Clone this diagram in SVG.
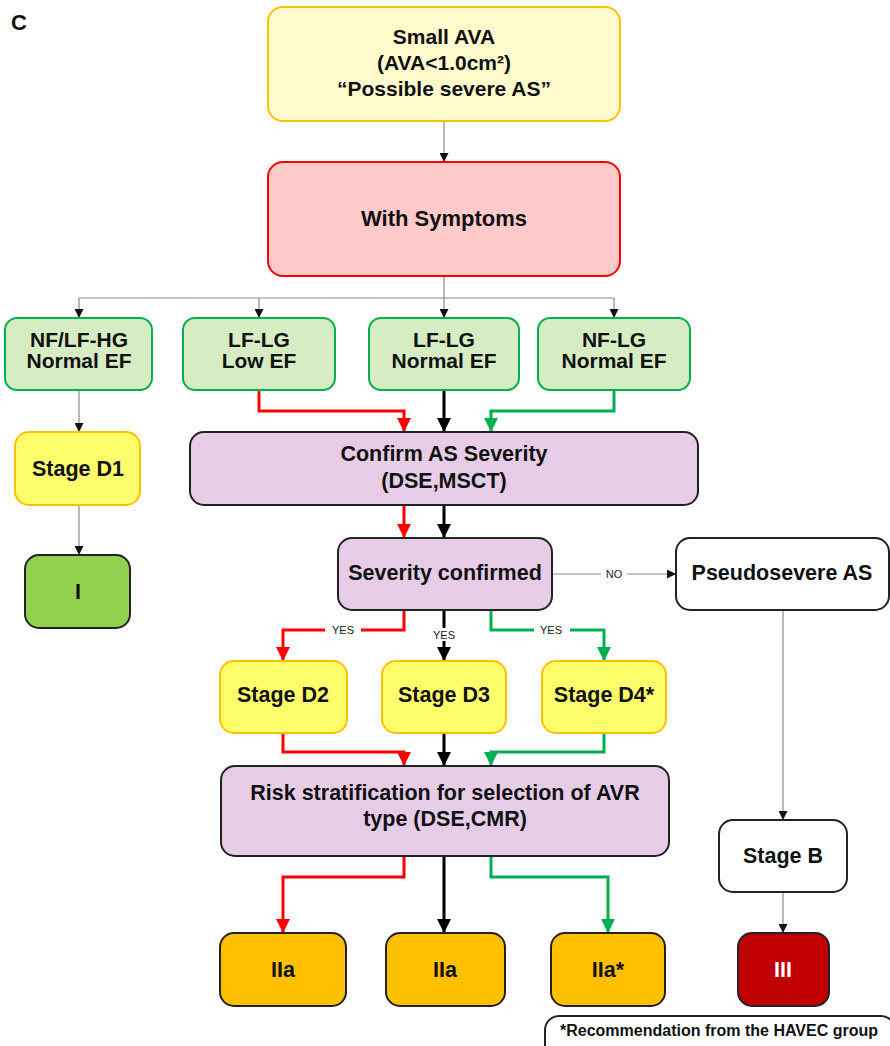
<svg xmlns="http://www.w3.org/2000/svg" width="890" height="1046" viewBox="0 0 890 1046">
<defs>
<style>
text{font-family:"Liberation Sans",Arial,sans-serif;font-weight:bold;text-anchor:middle;fill:#111}
.t{font-size:21.5px}
.g{font-size:21px}
.lbl{font-size:11px;font-weight:normal;fill:#222}
.yel{fill:#fffbcc;stroke:#ffc000;stroke-width:2}
.sym{fill:#ffcaca;stroke:#ff0000;stroke-width:2}
.grn{fill:#d6edc4;stroke:#00b050;stroke-width:2}
.stg{fill:#ffff6b;stroke:#ffc000;stroke-width:2}
.pur{fill:#e6cce6;stroke:#222;stroke-width:2}
.wht{fill:#fff;stroke:#222;stroke-width:2}
.cls1{fill:#92d050;stroke:#222;stroke-width:2}
.cls2{fill:#ffc000;stroke:#222;stroke-width:2}
.cls3{fill:#c00000;stroke:#222;stroke-width:2}
.thin{fill:none;stroke:#8a8a8a;stroke-width:1.2}
.red{fill:none;stroke:#ff0000;stroke-width:3}
.blk{fill:none;stroke:#000;stroke-width:3}
.gr{fill:none;stroke:#00b050;stroke-width:3}
</style>
<marker id="ah" viewBox="0 0 10 10" refX="10" refY="5" markerWidth="9" markerHeight="9" markerUnits="userSpaceOnUse" orient="auto"><path d="M0,0 L10,5 L0,10 z" fill="#111"/></marker>
<marker id="ar" viewBox="0 0 10 10" refX="10" refY="5" markerWidth="14" markerHeight="14" markerUnits="userSpaceOnUse" orient="auto"><path d="M0,0 L10,5 L0,10 z" fill="#ff0000"/></marker>
<marker id="ak" viewBox="0 0 10 10" refX="10" refY="5" markerWidth="14" markerHeight="14" markerUnits="userSpaceOnUse" orient="auto"><path d="M0,0 L10,5 L0,10 z" fill="#000"/></marker>
<marker id="ag" viewBox="0 0 10 10" refX="10" refY="5" markerWidth="14" markerHeight="14" markerUnits="userSpaceOnUse" orient="auto"><path d="M0,0 L10,5 L0,10 z" fill="#00b050"/></marker>
</defs>
<rect width="890" height="1046" fill="#fff"/>
<text x="19" y="30" style="font-size:22px">C</text>

<g id="connectors">
<path class="thin" d="M444,121 V162" marker-end="url(#ah)"/>
<path class="thin" d="M444,276 V298 M79,298 H614"/>
<path class="thin" d="M79,298 V318" marker-end="url(#ah)"/>
<path class="thin" d="M259,298 V318" marker-end="url(#ah)"/>
<path class="thin" d="M444,298 V318" marker-end="url(#ah)"/>
<path class="thin" d="M614,298 V318" marker-end="url(#ah)"/>
<path class="thin" d="M79,390 V432" marker-end="url(#ah)"/>
<path class="thin" d="M79,505 V555" marker-end="url(#ah)"/>
<path class="red" d="M259,390 V411 H404 V432" marker-end="url(#ar)"/>
<path class="blk" d="M444,390 V432" marker-end="url(#ak)"/>
<path class="gr" d="M614,390 V411 H491 V432" marker-end="url(#ag)"/>
<path class="red" d="M404,505 V538" marker-end="url(#ar)"/>
<path class="blk" d="M444,505 V538" marker-end="url(#ak)"/>
<path class="thin" d="M552,574 H676" marker-end="url(#ah)"/>
<rect x="601" y="567" width="26" height="14" fill="#fff"/>
<text class="lbl" x="614" y="578">NO</text>
<path class="red" d="M404,610 V630 H283 V661" marker-end="url(#ar)"/>
<path class="blk" d="M444,610 V661" marker-end="url(#ak)"/>
<path class="gr" d="M491,610 V630 H604 V661" marker-end="url(#ag)"/>
<rect x="325" y="623" width="36" height="14" fill="#fff"/>
<text class="lbl" x="343" y="634">YES</text>
<rect x="428" y="628" width="32" height="13" fill="#fff"/>
<text class="lbl" x="444" y="639">YES</text>
<rect x="534" y="623" width="36" height="14" fill="#fff"/>
<text class="lbl" x="551" y="634">YES</text>
<path class="red" d="M283,733 V752 H404 V766" marker-end="url(#ar)"/>
<path class="blk" d="M444,733 V766" marker-end="url(#ak)"/>
<path class="gr" d="M604,733 V752 H491 V766" marker-end="url(#ag)"/>
<path class="red" d="M404,856 V877 H283 V933" marker-end="url(#ar)"/>
<path class="blk" d="M444,856 V933" marker-end="url(#ak)"/>
<path class="gr" d="M491,856 V877 H608 V933" marker-end="url(#ag)"/>
<path class="thin" d="M783,610 V820" marker-end="url(#ah)"/>
<path class="thin" d="M783,892 V933" marker-end="url(#ah)"/>
</g>

<g id="n-small-ava"><rect class="yel" x="268" y="7" width="352" height="114" rx="15"/>
<text class="g" x="444" y="44">Small AVA</text><text class="g" x="444" y="70">(AVA&lt;1.0cm²)</text><text class="g" x="444" y="96">“Possible severe AS”</text></g>
<g id="n-symptoms"><rect class="sym" x="268" y="162" width="352" height="114" rx="15"/>
<text x="444" y="226" style="font-size:22px">With Symptoms</text></g>
<g id="n-nflfhg"><rect class="grn" x="5" y="318" width="147" height="72" rx="12"/>
<text class="g" x="79" y="347">NF/LF-HG</text><text class="g" x="79" y="368">Normal EF</text></g>
<g id="n-lflg-low"><rect class="grn" x="183" y="318" width="152" height="72" rx="12"/>
<text class="g" x="259" y="347">LF-LG</text><text class="g" x="259" y="368">Low EF</text></g>
<g id="n-lflg-normal"><rect class="grn" x="369" y="318" width="150" height="72" rx="12"/>
<text class="g" x="444" y="347">LF-LG</text><text class="g" x="444" y="368">Normal EF</text></g>
<g id="n-nflg"><rect class="grn" x="538" y="318" width="152" height="72" rx="12"/>
<text class="g" x="614" y="347">NF-LG</text><text class="g" x="614" y="368">Normal EF</text></g>
<g id="n-d1"><rect class="stg" x="15" y="432" width="125" height="73" rx="14"/>
<text class="t" x="78" y="476">Stage D1</text></g>
<g id="n-i"><rect class="cls1" x="25" y="555" width="105" height="73" rx="14"/>
<text class="t" x="78" y="599">I</text></g>
<g id="n-confirm"><rect class="pur" x="190" y="432" width="508" height="73" rx="14"/>
<text class="t" x="444" y="461">Confirm AS Severity</text><text class="t" x="444" y="488">(DSE,MSCT)</text></g>
<g id="n-sev"><rect class="pur" x="338" y="538" width="214" height="72" rx="14"/>
<text class="t" x="445" y="580">Severity confirmed</text></g>
<g id="n-pseudo"><rect class="wht" x="676" y="538" width="213" height="72" rx="14"/>
<text class="t" x="782" y="580">Pseudosevere AS</text></g>
<g id="n-d2"><rect class="stg" x="220" y="661" width="127" height="72" rx="14"/>
<text class="t" x="283" y="702">Stage D2</text></g>
<g id="n-d3"><rect class="stg" x="382" y="661" width="124" height="72" rx="14"/>
<text class="t" x="444" y="702">Stage D3</text></g>
<g id="n-d4"><rect class="stg" x="542" y="661" width="124" height="72" rx="14"/>
<text class="t" x="604" y="702">Stage D4*</text></g>
<g id="n-risk"><rect class="pur" x="221" y="766" width="448" height="90" rx="14"/>
<text class="t" x="445" y="800">Risk stratification for selection of AVR</text><text class="t" x="445" y="826">type (DSE,CMR)</text></g>
<g id="n-stageb"><rect class="wht" x="719" y="820" width="128" height="72" rx="14"/>
<text class="t" x="783" y="863">Stage B</text></g>
<g id="n-iia1"><rect class="cls2" x="220" y="933" width="126" height="73" rx="14"/>
<text class="t" x="283" y="977">IIa</text></g>
<g id="n-iia2"><rect class="cls2" x="386" y="933" width="119" height="73" rx="14"/>
<text class="t" x="445" y="977">IIa</text></g>
<g id="n-iia3"><rect class="cls2" x="551" y="933" width="114" height="73" rx="14"/>
<text class="t" x="608" y="977">IIa*</text></g>
<g id="n-iii"><rect class="cls3" x="738" y="933" width="91" height="73" rx="14"/>
<text class="t" x="783" y="977" style="fill:#fff">III</text></g>
<g id="n-note"><rect x="545" y="1016" width="350" height="44" rx="14" fill="#fff" stroke="#222" stroke-width="2"/>
<text x="719" y="1036" style="font-size:16px">*Recommendation from the HAVEC group</text></g>
</svg>
